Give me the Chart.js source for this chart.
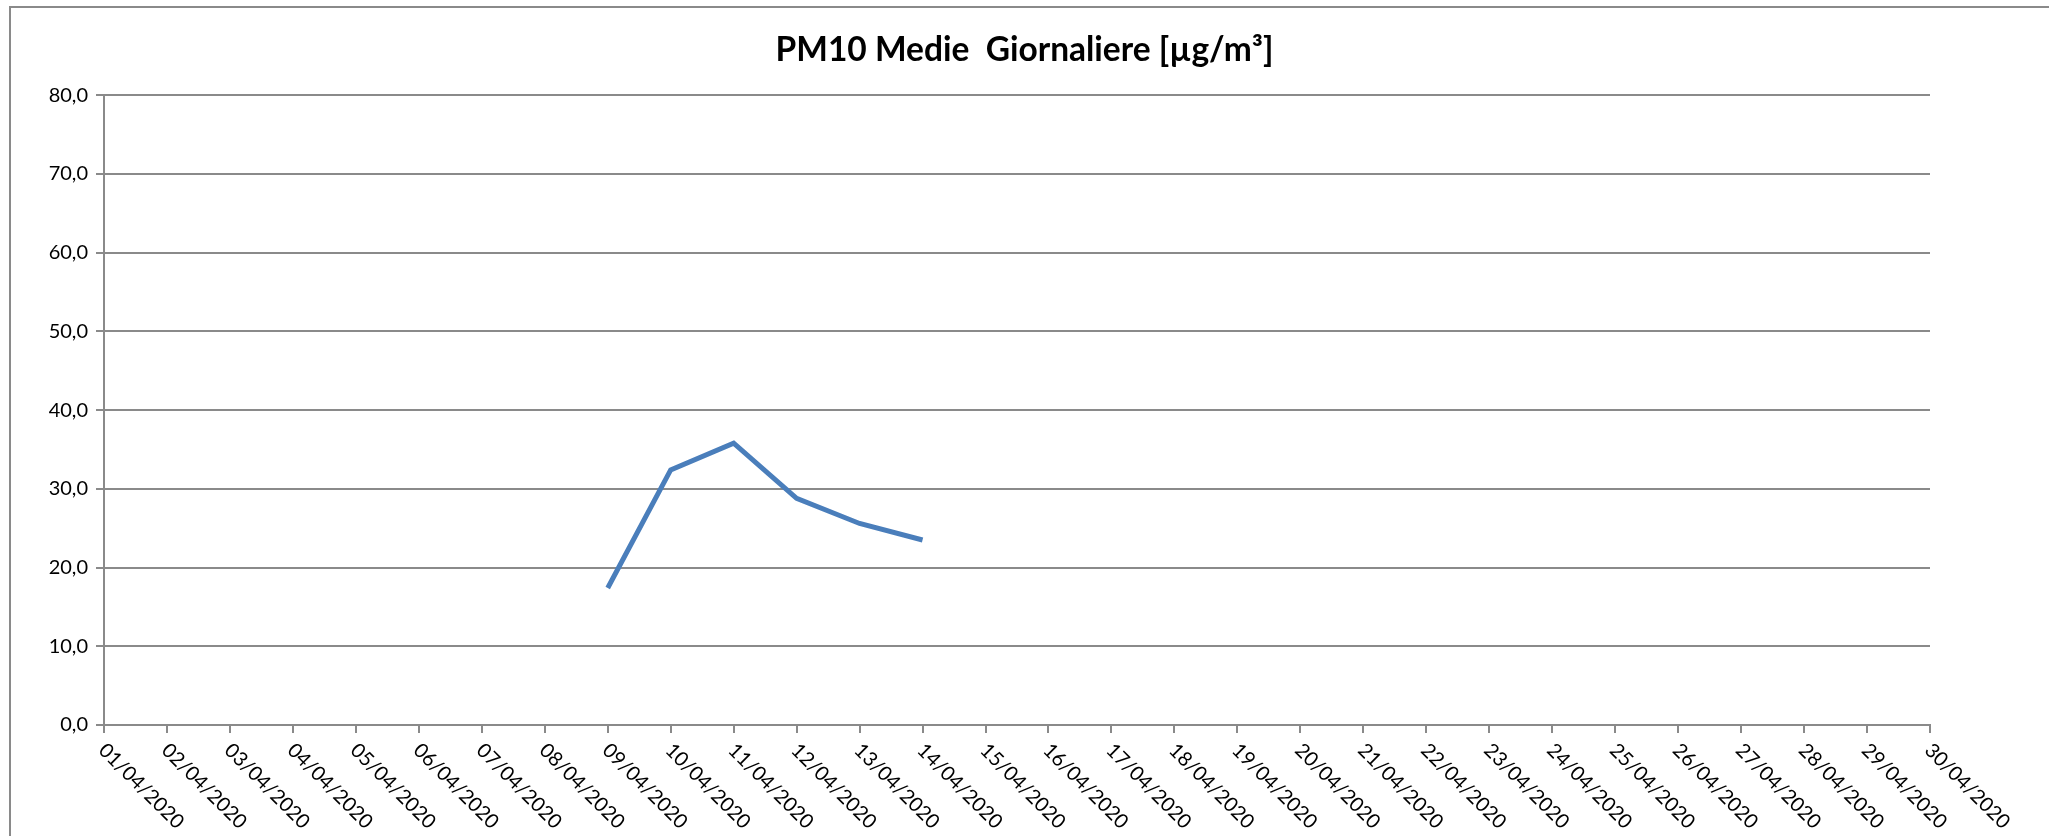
<!DOCTYPE html>
<html>
<head>
<meta charset="utf-8">
<title>PM10 Medie Giornaliere</title>
<script src="https://cdn.jsdelivr.net/npm/chart.js@4.4.1/dist/chart.umd.min.js"></script>
<style>
  html, body { margin: 0; padding: 0; background: #fff; }
  canvas { display: block; }
</style>
</head>
<body>
<canvas id="pm10Chart" width="2049" height="836"></canvas>
<script>
const chartTitle = 'PM10 Medie  Giornaliere [µg/m³]';

const categories = [
  '01/04/2020', '02/04/2020', '03/04/2020', '04/04/2020', '05/04/2020',
  '06/04/2020', '07/04/2020', '08/04/2020', '09/04/2020', '10/04/2020',
  '11/04/2020', '12/04/2020', '13/04/2020', '14/04/2020', '15/04/2020',
  '16/04/2020', '17/04/2020', '18/04/2020', '19/04/2020', '20/04/2020',
  '21/04/2020', '22/04/2020', '23/04/2020', '24/04/2020', '25/04/2020',
  '26/04/2020', '27/04/2020', '28/04/2020', '29/04/2020', '30/04/2020'
];

const pm10Values = [
  null, null, null, null, null, null, null, null, 17.4, 32.4,
  35.8, 28.8, 25.6, 23.5, null, null, null, null, null, null,
  null, null, null, null, null, null, null, null, null, null
];

const yTickValues = [0, 10, 20, 30, 40, 50, 60, 70, 80];

const FONT = 'Lato, "Open Sans", sans-serif';
const GRID = '#8a8a8a';

// x labels go down to the right, starting at the tick, so they are drawn here
const frameAndLabels = {
  id: 'frameAndLabels',
  beforeDraw(chart) {
    const ctx = chart.ctx;
    ctx.save();
    ctx.fillStyle = '#fff';
    ctx.fillRect(0, 0, chart.width, chart.height);
    ctx.strokeStyle = GRID;
    ctx.lineWidth = 2;
    ctx.strokeRect(10, 7, chart.width + 20, chart.height + 20);
    ctx.restore();
  },
  afterDraw(chart) {
    const ctx = chart.ctx;
    const xs = chart.scales.x;
    ctx.save();
    ctx.fillStyle = '#000';
    ctx.font = '20px ' + FONT;
    ctx.textAlign = 'left';
    ctx.textBaseline = 'middle';
    chart.data.labels.forEach((lab, i) => {
      const px = xs.getPixelForValue(i);
      ctx.save();
      ctx.translate(px - 2, xs.top + 22);
      ctx.rotate(Math.PI / 4);
      ctx.fillText(lab, 0, 0);
      ctx.restore();
    });
    ctx.restore();
  }
};

new Chart(document.getElementById('pm10Chart'), {
  type: 'line',
  data: {
    labels: categories,
    datasets: [{
      label: 'PM10',
      data: pm10Values,
      borderColor: '#4a7ebb',
      borderWidth: 5,
      borderJoinStyle: 'miter',
      pointRadius: 0,
      tension: 0,
      spanGaps: false,
      fill: false
    }]
  },
  options: {
    responsive: false,
    devicePixelRatio: 1,
    animation: false,
    layout: { padding: 0 },
    plugins: {
      legend: { display: false },
      tooltip: { enabled: false },
      title: {
        display: true,
        text: chartTitle,
        color: '#000',
        font: { family: FONT, size: 33.5, weight: 'bold', lineHeight: 1.2 },
        padding: { top: 30, bottom: 25 }
      }
    },
    scales: {
      x: {
        type: 'category',
        offset: false,
        grid: { drawOnChartArea: false, drawTicks: true, tickLength: 8, color: GRID, lineWidth: 2 },
        border: { display: true, color: GRID, width: 2 },
        ticks: { display: false },
        afterFit: (s) => { s.height = 111; }
      },
      y: {
        min: 0,
        max: 80,
        afterBuildTicks: (s) => { s.ticks = yTickValues.map(v => ({ value: v })); },
        grid: { color: GRID, lineWidth: 2, drawTicks: true, tickLength: 8 },
        border: { display: true, color: GRID, width: 2 },
        ticks: {
          color: '#000',
          padding: 8,
          font: { family: FONT, size: 20 },
          callback: (v) => v.toFixed(1).replace('.', ',')
        },
        afterFit: (s) => { s.width = 104; }
      },
      // empty right axis, only to keep the plot clear of the right edge
      yRight: {
        position: 'right',
        display: true,
        grid: { display: false },
        border: { display: false },
        ticks: { display: false },
        afterFit: (s) => { s.width = 119; }
      }
    }
  },
  plugins: [frameAndLabels]
});
</script>
</body>
</html>
